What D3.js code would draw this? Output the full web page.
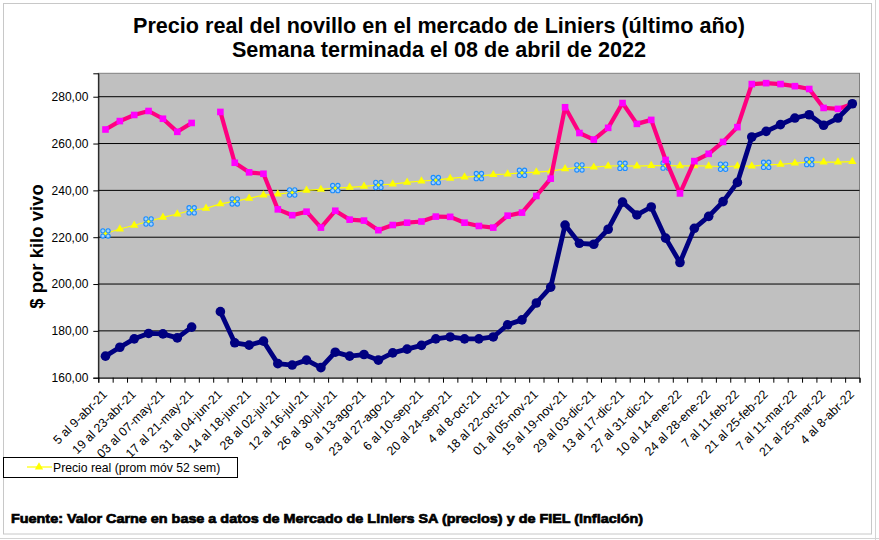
<!DOCTYPE html>
<html>
<head>
<meta charset="utf-8">
<script src="https://cdn.jsdelivr.net/npm/d3@7"></script>
<style>
  body { margin: 0; background: #fff; }
  svg { display: block; font-family: "Liberation Sans", Arial, sans-serif; }
</style>
</head>
<body>
<svg id="chart" width="879" height="540"></svg>
<script>
// semanas (eje x)
const semanas = [
  "5 al 9-abr-21", "12 al 16-abr-21", "19 al 23-abr-21", "26 al 30-abr-21",
  "03 al 07-may-21", "10 al 14-may-21", "17 al 21-may-21", "24 al 28-may-21",
  "31 al 04-jun-21", "07 al 11-jun-21", "14 al 18-jun-21", "21 al 25-jun-21",
  "28 al 02-jul-21", "05 al 09-jul-21", "12 al 16-jul-21", "19 al 23-jul-21",
  "26 al 30-jul-21", "2 al 6-ago-21", "9 al 13-ago-21", "16 al 20-ago-21",
  "23 al 27-ago-21", "30 al 3-sep-21", "6 al 10-sep-21", "13 al 17-sep-21",
  "20 al 24-sep-21", "27 al 1-oct-21", "4 al 8-oct-21", "11 al 15-oct-21",
  "18 al 22-oct-21", "25 al 29-oct-21", "01 al 05-nov-21", "08 al 12-nov-21",
  "15 al 19-nov-21", "22 al 26-nov-21", "29 al 03-dic-21", "06 al 10-dic-21",
  "13 al 17-dic-21", "20 al 24-dic-21", "27 al 31-dic-21", "03 al 07-ene-22",
  "10 al 14-ene-22", "17 al 21-ene-22", "24 al 28-ene-22", "31 al 04-feb-22",
  "7 al 11-feb-22", "14 al 18-feb-22", "21 al 25-feb-22", "28 al 04-mar-22",
  "7 al 11-mar-22", "14 al 18-mar-22", "21 al 25-mar-22", "28 al 01-abr-22",
  "4 al 8-abr-22"
];

// precio real semanal (rosa)
const precioReal = [
  266.0, 269.6, 272.2, 273.9, 270.6, 265.0, 268.8, null, 273.5, 251.8,
  247.7, 247.1, 231.9, 229.4, 230.9, 224.1, 231.3, 227.5, 227.1, 223.0,
  225.2, 226.2, 226.7, 228.8, 228.7, 226.2, 224.8, 224.1, 229.2, 230.5,
  237.6, 245.0, 275.5, 264.5, 261.7, 266.7, 277.3, 268.4, 270.1, 253.0,
  238.7, 252.5, 255.6, 260.7, 267.0, 285.4, 285.8, 285.4, 284.5, 283.3,
  275.2, 274.8, 276.9
];

// precio nominal semanal (azul)
const precioNominal = [
  169.2, 173.0, 176.6, 178.9, 178.7, 177.0, 181.6, null, 188.2, 174.9,
  173.9, 175.6, 166.0, 165.4, 167.5, 164.3, 170.9, 169.2, 169.9, 167.5,
  170.6, 172.2, 173.8, 176.6, 177.4, 176.6, 176.6, 177.4, 182.6, 184.7,
  191.9, 198.7, 225.2, 217.4, 217.0, 223.4, 235.0, 229.5, 232.9, 219.6,
  209.2, 223.8, 228.9, 235.2, 243.4, 262.8, 265.2, 268.1, 270.9, 272.3,
  267.8, 270.9, 277.0
];

// precio real, promedio movil 52 semanas (amarillo)
const promMovil = [
  221.6, 223.5, 225.1, 226.7, 228.5, 229.9, 231.5, 232.3, 234.2, 235.3,
  236.6, 238.0, 238.4, 239.1, 240.0, 240.4, 241.0, 241.3, 241.7, 242.3,
  242.7, 243.4, 244.0, 244.4, 245.1, 245.7, 246.1, 246.7, 247.0, 247.5,
  247.8, 248.2, 249.2, 249.8, 249.9, 250.4, 250.5, 250.4, 250.6, 250.6,
  250.5, 250.5, 250.4, 250.1, 250.4, 250.4, 250.9, 251.1, 251.6, 252.1,
  252.1, 252.1, 252.3
];

// semanas con marca extra sobre el promedio
const marcas = [0, 3, 6, 9, 13, 16, 19, 23, 26, 29, 33, 36, 39, 43, 46, 49];

const yTicks = [160, 180, 200, 220, 240, 260, 280];

const svg = d3.select("#chart");
const pLeft = 98.3, pRight = 859.5, pTop = 73.3, pBottom = 377.7;

// marco del grafico
svg.append("rect").attr("x", 3.5).attr("y", 3.5).attr("width", 868).attr("height", 530.5)
  .attr("fill", "#fff").attr("stroke", "#c8c8c8");
svg.append("line").attr("x1", 875.5).attr("x2", 875.5).attr("y1", 0).attr("y2", 540)
  .attr("stroke", "#d4d4d4");
svg.append("line").attr("x1", 0).attr("x2", 879).attr("y1", 538.5).attr("y2", 538.5)
  .attr("stroke", "#d4d4d4");

const x = d3.scaleBand().domain(d3.range(semanas.length)).range([pLeft, pRight]);
const xEdge = d3.scaleLinear().domain([0, semanas.length]).range([pLeft, pRight]);
const y = d3.scaleLinear().domain([160, 290]).range([pBottom, pTop]);
const cx = i => x(i) + x.bandwidth() / 2;

// area de trazado
svg.append("rect").attr("x", pLeft).attr("y", pTop)
  .attr("width", pRight - pLeft).attr("height", pBottom - pTop)
  .attr("fill", "#c0c0c0").attr("stroke", "#808080");

svg.append("g").selectAll("line").data(yTicks.slice(1)).join("line")
  .attr("x1", pLeft).attr("x2", pRight)
  .attr("y1", d => y(d)).attr("y2", d => y(d))
  .attr("stroke", "#000");

// eje y
const yAxis = svg.append("g").attr("transform", `translate(${pLeft},0)`)
  .call(d3.axisLeft(y).tickValues(yTicks).tickSize(5).tickPadding(5)
    .tickFormat(d => d3.format(".2f")(d).replace(".", ",")));
yAxis.select(".domain").attr("stroke", "#000");
yAxis.selectAll("text").attr("font-size", 12).attr("fill", "#000")
  .attr("font-family", "Liberation Sans, Arial, sans-serif");

// eje x
const xAxis = svg.append("g").attr("transform", `translate(0,${pBottom})`)
  .call(d3.axisBottom(xEdge).tickValues(d3.range(semanas.length + 1)).tickSize(5).tickFormat(""));
xAxis.select(".domain").attr("stroke", "#000");

svg.append("g").selectAll("text")
  .data(semanas.map((s, i) => ({ s, i })).filter(d => d.i % 2 === 0))
  .join("text")
  .attr("transform", d => `translate(${cx(d.i) + 2.5},${pBottom + 17.5}) rotate(-45)`)
  .attr("text-anchor", "end")
  .attr("font-size", 12.4)
  .text(d => d.s);

// series
const linea = vals => d3.line()
  .defined(i => vals[i] != null)
  .x(i => cx(i)).y(i => y(vals[i]));
const idx = d3.range(semanas.length);

svg.append("path").attr("d", linea(promMovil)(idx))
  .attr("fill", "none").attr("stroke", "#ffff00").attr("stroke-width", 1.2);
const tri = d3.symbol().type(d3.symbolTriangle).size(30);
svg.append("g").selectAll("path").data(idx).join("path")
  .attr("d", tri)
  .attr("transform", i => `translate(${cx(i)},${y(promMovil[i])})`)
  .attr("fill", "#ffff00");

// marcas tipo trebol
const trebol = svg.append("g").selectAll("g").data(marcas).join("g")
  .attr("transform", i => `translate(${cx(i)},${y(promMovil[i])})`);
[[-2.6, -2.6], [2.6, -2.6], [-2.6, 2.6], [2.6, 2.6]].forEach(([dx, dy]) => {
  trebol.append("circle").attr("cx", dx).attr("cy", dy).attr("r", 2.1)
    .attr("fill", "#9fd0ff").attr("stroke", "#1a8cff").attr("stroke-width", 1.1);
});
trebol.append("path").attr("d", "M-1.6,0H1.6M0,-1.6V1.6")
  .attr("stroke", "#ffff00").attr("stroke-width", 1.4);

svg.append("path").attr("d", linea(precioReal)(idx))
  .attr("fill", "none").attr("stroke", "#ff0080").attr("stroke-width", 4.2)
  .attr("stroke-linejoin", "round");
svg.append("g").selectAll("rect").data(idx.filter(i => precioReal[i] != null)).join("rect")
  .attr("x", i => cx(i) - 3.3).attr("y", i => y(precioReal[i]) - 3.3)
  .attr("width", 6.6).attr("height", 6.6)
  .attr("fill", "#ff00ff");

svg.append("path").attr("d", linea(precioNominal)(idx))
  .attr("fill", "none").attr("stroke", "#000080").attr("stroke-width", 4.8)
  .attr("stroke-linejoin", "round");
svg.append("g").selectAll("circle").data(idx.filter(i => precioNominal[i] != null)).join("circle")
  .attr("cx", cx).attr("cy", i => y(precioNominal[i])).attr("r", 4.8)
  .attr("fill", "#000080");

// titulos
const titulo = svg.append("text").attr("x", 439).attr("text-anchor", "middle")
  .attr("font-size", 21.6).attr("font-weight", "bold");
titulo.append("tspan").attr("x", 439).attr("y", 33.3)
  .text("Precio real del novillo en el mercado de Liniers (último año)");
titulo.append("tspan").attr("x", 439).attr("y", 56.7)
  .text("Semana terminada el 08 de abril de 2022");

svg.append("text")
  .attr("transform", "translate(43,246.5) rotate(-90)")
  .attr("text-anchor", "middle")
  .attr("font-size", 18.5).attr("font-weight", "bold")
  .text("$ por kilo vivo");

// leyenda
const ley = svg.append("g");
ley.append("rect").attr("x", 3.5).attr("y", 457.5).attr("width", 234).attr("height", 20)
  .attr("fill", "#fff").attr("stroke", "#000");
ley.append("line").attr("x1", 27).attr("x2", 52).attr("y1", 467).attr("y2", 467)
  .attr("stroke", "#ffff00").attr("stroke-width", 1.2);
ley.append("path").attr("d", tri).attr("transform", "translate(39,467)").attr("fill", "#ffff00");
ley.append("text").attr("x", 53).attr("y", 471.5).attr("font-size", 12.2)
  .text("Precio real (prom móv 52 sem)");

// fuente
svg.append("text").attr("x", 11).attr("y", 523)
  .attr("font-size", 13).attr("font-weight", "bold")
  .attr("stroke", "#000").attr("stroke-width", 0.7)
  .attr("textLength", 632).attr("lengthAdjust", "spacingAndGlyphs")
  .text("Fuente: Valor Carne en base a datos de Mercado de Liniers SA (precios) y de FIEL (inflación)");
</script>
</body>
</html>
